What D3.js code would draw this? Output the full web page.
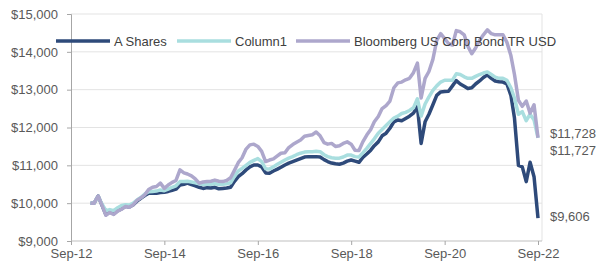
<!DOCTYPE html>
<html>
<head>
<meta charset="utf-8">
<script src="https://cdn.jsdelivr.net/npm/d3@7"></script>
<style>
  body { margin: 0; background: #fff; }
  svg text { font-family: Arial, "Liberation Sans", sans-serif; }
</style>
</head>
<body>
<svg id="chart" width="599" height="265"></svg>
<script>
// monthly values, Feb 2013 .. Sep 2022
var startYear = 2013, startMonth = 1;

var aShares = [
  10000,10000,10190,9950,9700,9770,9720,9800,9850,9920,9900,9960,
  10060,10130,10200,10260,10270,10260,10280,10290,10310,10340,10370,10480,
  10500,10530,10490,10460,10420,10390,10410,10400,10420,10380,10390,10400,
  10420,10570,10700,10780,10880,10960,11010,11010,10960,10800,10790,10850,
  10900,10950,11010,11060,11100,11140,11180,11220,11230,11230,11230,11220,
  11150,11100,11060,11040,11030,11060,11110,11140,11110,11080,11210,11300,
  11400,11520,11620,11780,11850,11980,12150,12200,12180,12240,12300,12380,
  12550,11580,12150,12350,12600,12850,12940,12950,12960,13100,13240,13150,
  13090,13030,13050,13150,13230,13320,13390,13300,13230,13210,13200,13150,
  12850,12250,11000,10960,10570,11080,10700,9606
];

var column1 = [
  10000,10000,10180,9980,9800,9830,9800,9880,9940,9960,9950,10000,
  10090,10150,10240,10300,10310,10320,10350,10330,10370,10420,10460,10570,
  10570,10580,10560,10540,10510,10490,10500,10500,10520,10490,10500,10510,
  10540,10700,10850,10920,11000,11080,11130,11180,11100,10910,10900,10960,
  11030,11080,11140,11190,11230,11280,11320,11350,11360,11360,11370,11360,
  11280,11230,11200,11190,11190,11220,11270,11270,11230,11220,11330,11450,
  11580,11700,11850,11950,12050,12150,12250,12300,12370,12400,12450,12520,
  12760,12300,12620,12810,12980,13100,13200,13250,13250,13250,13420,13400,
  13340,13300,13300,13350,13400,13440,13470,13400,13330,13300,13300,13250,
  13050,12780,12350,12420,12180,12350,12200,11727
];

var bloomberg = [
  10000,10000,10190,9950,9680,9750,9700,9790,9840,9910,9890,9960,
  10080,10140,10220,10360,10420,10440,10530,10390,10480,10550,10600,10880,
  10800,10770,10720,10640,10530,10560,10570,10580,10610,10580,10570,10600,
  10670,10860,11070,11200,11430,11540,11560,11500,11370,11100,11140,11170,
  11250,11320,11330,11470,11550,11610,11670,11770,11790,11810,11880,11780,
  11600,11560,11580,11500,11520,11580,11620,11560,11400,11390,11620,11800,
  11950,12150,12290,12500,12580,12700,13050,13180,13200,13260,13300,13450,
  13700,12780,13300,13480,13800,14300,14480,14350,14220,14180,14560,14530,
  14450,14150,13950,14100,14300,14450,14580,14480,14450,14450,14450,14250,
  13900,13400,12720,12560,12700,12380,12600,11728
];

var seriesNames = ['A Shares', 'Column1', 'Bloomberg US Corp Bond TR USD'];
var seriesColors = ['#2E4A7A', '#A9DEDF', '#ADA7CC'];
var endLabels = ['$9,606', '$11,727', '$11,728'];
var endLabelShift = [-2, 13, -4];

var yTicks = [9000, 10000, 11000, 12000, 13000, 14000, 15000];
var xTickYears = [2012, 2014, 2016, 2018, 2020, 2022];

var dates = aShares.map(function(d, i) { return new Date(startYear, startMonth + i, 1); });

var svg = d3.select('#chart');
var plotL = 71, plotR = 538, plotT = 14, plotB = 241;

var xScale = d3.scaleTime()
  .domain([new Date(2012, 8, 1), new Date(2022, 8, 1)])
  .range([plotL, plotR]);

var yScale = d3.scaleLinear()
  .domain([9000, 15000])
  .range([plotB, plotT]);

// gridlines
svg.append('g').selectAll('line')
  .data(yTicks.slice(1))
  .join('line')
  .attr('x1', plotL).attr('x2', plotR + 4)
  .attr('y1', d => yScale(d)).attr('y2', d => yScale(d))
  .attr('stroke', '#E3E3E3')
  .attr('stroke-width', 1);

// right border
svg.append('line')
  .attr('x1', plotR + 4).attr('x2', plotR + 4)
  .attr('y1', plotT).attr('y2', plotB)
  .attr('stroke', '#E3E3E3');

// y axis
var yAxis = svg.append('g')
  .attr('transform', 'translate(' + plotL + ',0)')
  .call(d3.axisLeft(yScale).tickValues(yTicks).tickSize(4).tickPadding(9)
    .tickFormat(d => '$' + d3.format(',')(d)));
yAxis.select('.domain').attr('stroke', '#A6A6A6');
yAxis.selectAll('.tick line').attr('stroke', '#A6A6A6');
yAxis.selectAll('text').attr('fill', '#595959').attr('font-size', 13);

// x axis
var xAxis = svg.append('g')
  .attr('transform', 'translate(0,' + plotB + ')')
  .call(d3.axisBottom(xScale)
    .tickValues(xTickYears.map(y => new Date(y, 8, 1)))
    .tickSize(4).tickPadding(4)
    .tickFormat(d3.timeFormat('%b-%y')));
xAxis.select('.domain').attr('d', 'M' + plotL + ',0H' + (plotR + 4)).attr('stroke', '#BFBFBF');
xAxis.selectAll('.tick line').attr('stroke', '#A6A6A6');
xAxis.selectAll('text').attr('fill', '#595959').attr('font-size', 13);

// lines
var allSeries = [aShares, column1, bloomberg];
var line = d3.line()
  .x((d, i) => xScale(dates[i]))
  .y(d => yScale(d));

allSeries.forEach(function(s, k) {
  svg.append('path')
    .datum(s)
    .attr('fill', 'none')
    .attr('stroke', seriesColors[k])
    .attr('stroke-width', 3.5)
    .attr('stroke-linejoin', 'round')
    .attr('d', line);
});

// end labels
allSeries.forEach(function(s, k) {
  var last = s.length - 1;
  svg.append('text')
    .attr('x', xScale(dates[last]) + 12)
    .attr('y', yScale(s[last]) + endLabelShift[k])
    .attr('dy', '0.35em')
    .attr('fill', '#595959')
    .attr('font-size', 13)
    .text(endLabels[k]);
});

// legend
var legendX = [56, 177, 296];
var legend = svg.append('g');
seriesNames.forEach(function(name, k) {
  legend.append('line')
    .attr('x1', legendX[k]).attr('x2', legendX[k] + 54)
    .attr('y1', 41).attr('y2', 41)
    .attr('stroke', seriesColors[k])
    .attr('stroke-width', 3.5);
  legend.append('text')
    .attr('x', legendX[k] + 58)
    .attr('y', 41)
    .attr('dy', '0.35em')
    .attr('fill', '#404040')
    .attr('font-size', 13)
    .text(name);
});
</script>
</body>
</html>
